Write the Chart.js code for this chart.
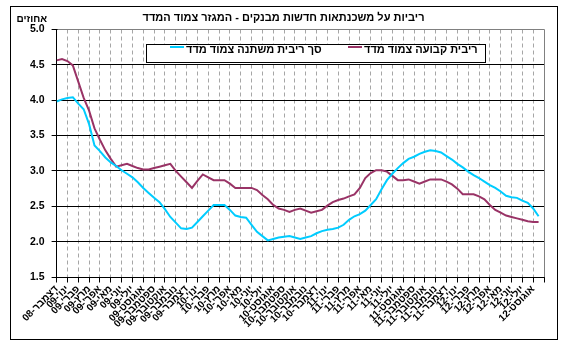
<!DOCTYPE html>
<html>
<head>
<meta charset="utf-8">
<script src="https://cdn.jsdelivr.net/npm/chart.js@4"></script>
<style>
html, body { margin: 0; padding: 0; background: #fff; }
#contenedor { width: 585px; height: 353px; }
</style>
</head>
<body>
<div id="contenedor"><canvas id="grafico" width="585" height="353"></canvas></div>
<script>
// meses del eje x (etiquetas de las marcas)
const meses = [
    "דצמבר-08",
    "ינו'-09", "פבר'-09", "מרץ-09", "אפר'-09", "מאי-09", "יוני-09", "יולי-09", "אוגוסט-09", "ספטמבר-09", "אוקטובר-09", "נובמבר-09", "דצמבר-09",
    "ינו'-10", "פבר'-10", "מרץ-10", "אפר'-10", "מאי-10", "יוני-10", "יולי-10", "אוגוסט-10", "ספטמבר-10", "אוקטובר-10", "נובמבר-10", "דצמבר-10",
    "ינו'-11", "פבר'-11", "מרץ-11", "אפר'-11", "מאי-11", "יוני-11", "יולי-11", "אוגוסט-11", "ספטמבר-11", "אוקטובר-11", "נובמבר-11", "דצמבר-11",
    "ינו'-12", "פבר'-12", "מרץ-12", "אפר'-12", "מאי-12", "יוני-12", "יולי-12", "אוגוסט-12"
];

// valores cada medio mes, desde dic-08
const ribitMishtana = [
    3.98, 4.01, 4.03, 4.04, 3.95, 3.87, 3.66, 3.36, 3.28, 3.19,
    3.12, 3.07, 3.01, 2.96, 2.91, 2.84, 2.76, 2.69, 2.62, 2.56,
    2.46, 2.35, 2.27, 2.19, 2.18, 2.20, 2.28, 2.36, 2.44, 2.52,
    2.52, 2.52, 2.45, 2.37, 2.35, 2.34, 2.24, 2.14, 2.08, 2.02,
    2.04, 2.06, 2.07, 2.08, 2.06, 2.04, 2.06, 2.08, 2.12, 2.15,
    2.17, 2.18, 2.20, 2.24, 2.31, 2.36, 2.39, 2.44, 2.52, 2.60,
    2.74, 2.87, 2.96, 3.04, 3.11, 3.17, 3.20, 3.24, 3.27, 3.29,
    3.28, 3.26, 3.21, 3.16, 3.10, 3.05, 2.99, 2.94, 2.90, 2.85,
    2.80, 2.76, 2.71, 2.65, 2.63, 2.62, 2.58, 2.55, 2.47, 2.36
];
const ribitKvua = [
    4.56, 4.58, 4.55, 4.49, 4.26, 4.03, 3.85, 3.60, 3.44, 3.29,
    3.17, 3.06, 3.08, 3.10, 3.07, 3.04, 3.02, 3.02, 3.04, 3.06,
    3.08, 3.10, 3.00, 2.92, 2.84, 2.76, 2.86, 2.95, 2.91, 2.87,
    2.87, 2.87, 2.82, 2.76, 2.76, 2.76, 2.76, 2.73, 2.66, 2.60,
    2.52, 2.47, 2.45, 2.42, 2.45, 2.47, 2.44, 2.41, 2.43, 2.45,
    2.51, 2.56, 2.59, 2.61, 2.64, 2.67, 2.76, 2.90, 2.97, 3.01,
    3.01, 2.99, 2.93, 2.87, 2.87, 2.88, 2.85, 2.82, 2.85, 2.88,
    2.88, 2.88, 2.85, 2.81, 2.75, 2.67, 2.67, 2.67, 2.64, 2.60,
    2.52, 2.45, 2.41, 2.37, 2.35, 2.33, 2.31, 2.29, 2.28, 2.28
];

const yMin = 1.5;
const yMax = 5;

const fuente = 'Liberation Sans, Arial, DejaVu Sans, sans-serif';
Chart.defaults.font.family = fuente;
Chart.defaults.color = '#000';

const aPuntos = (serie) => serie.map((v, i) => ({ x: i / 2, y: v }));

// rejilla vertical punteada, borde gris, marcas del eje x, marco, leyenda y "אחוזים"
// (todo a partir de las escalas, no de chartArea)
const marcoPlugin = {
    id: 'marco',
    afterDraw(chart) {
        const ctx = chart.ctx;
        const sx = chart.scales.x;
        const sy = chart.scales.y;
        const alinear = (p) => Math.round(p - 0.5) + 0.5;
        const arriba = alinear(sy.getPixelForValue(yMax));
        const abajo = alinear(sy.getPixelForValue(yMin));
        ctx.save();

        // por detrás de las líneas ya dibujadas
        ctx.globalCompositeOperation = 'destination-over';
        ctx.lineWidth = 1;
        ctx.strokeStyle = '#a6a6a6';
        ctx.setLineDash([4, 3]);
        for (let i = 1; i < meses.length; i++) {
            const x = alinear(sx.getPixelForValue(i));
            ctx.beginPath();
            ctx.moveTo(x, arriba);
            ctx.lineTo(x, abajo);
            ctx.stroke();
        }
        ctx.setLineDash([]);
        ctx.globalCompositeOperation = 'source-over';

        // borde gris superior y derecho
        const xIzq = alinear(sx.getPixelForValue(0));
        const xDer = alinear(sx.getPixelForValue(meses.length));
        ctx.strokeStyle = '#808080';
        ctx.beginPath();
        ctx.moveTo(xIzq + 1, arriba);
        ctx.lineTo(xDer, arriba);
        ctx.lineTo(xDer, abajo);
        ctx.stroke();

        // eje x y sus marcas
        ctx.strokeStyle = '#000';
        ctx.beginPath();
        ctx.moveTo(xIzq, abajo);
        ctx.lineTo(xDer, abajo);
        ctx.stroke();
        for (let i = 0; i <= meses.length; i++) {
            const x = alinear(sx.getPixelForValue(i));
            ctx.beginPath();
            ctx.moveTo(x, abajo);
            ctx.lineTo(x, abajo + 5);
            ctx.stroke();
        }

        ctx.strokeRect(10.5, 6.5, 547, 333);

        ctx.font = 'bold 10px ' + fuente;
        ctx.fillStyle = '#000';
        ctx.textAlign = 'right';
        ctx.textBaseline = 'middle';
        ctx.fillText('אחוזים', 47, 19);

        // leyenda
        ctx.font = 'bold 11px ' + fuente;
        ctx.fillStyle = '#fff';
        ctx.fillRect(146, 44, 339, 18);
        ctx.strokeStyle = '#000';
        ctx.strokeRect(146.5, 44.5, 339, 18);
        const xs = [170, 348];
        chart.data.datasets.forEach((ds, i) => {
            ctx.strokeStyle = ds.borderColor;
            ctx.lineWidth = 2;
            ctx.beginPath();
            ctx.moveTo(xs[i], 47);
            ctx.lineTo(xs[i] + 14, 47);
            ctx.stroke();
            ctx.fillStyle = '#000';
            ctx.textAlign = 'left';
            ctx.fillText(ds.label, xs[i] + 16, 50);
        });
        ctx.restore();
    }
};

new Chart(document.getElementById('grafico').getContext('2d'), {
    type: 'line',
    data: {
        datasets: [{
            label: 'סך ריבית משתנה צמוד מדד',
            data: aPuntos(ribitMishtana),
            borderColor: '#00CCFF',
            borderWidth: 2,
            pointRadius: 0,
            tension: 0
        }, {
            label: 'ריבית קבועה צמוד מדד',
            data: aPuntos(ribitKvua),
            borderColor: '#993366',
            borderWidth: 2,
            pointRadius: 0,
            tension: 0
        }]
    },
    options: {
        responsive: false,
        animation: false,
        layout: { padding: { left: 23, right: 41, top: 10, bottom: 22 } },
        plugins: {
            legend: { display: false },
            tooltip: { enabled: false },
            title: {
                display: true,
                text: 'ריביות על משכנתאות חדשות מבנקים - המגזר צמוד המדד',
                font: { size: 11, weight: 'bold' },
                color: '#000',
                padding: { top: 1, bottom: 5 }
            }
        },
        scales: {
            x: {
                type: 'linear',
                min: 0,
                max: meses.length,
                ticks: {
                    stepSize: 1,
                    autoSkip: false,
                    minRotation: 45,
                    maxRotation: 45,
                    padding: 1,
                    font: { size: 10, weight: 'bold' },
                    callback: (v) => meses[v] || ''
                },
                grid: {
                    color: 'rgba(0,0,0,0)',
                    tickColor: 'rgba(0,0,0,0)',
                    tickLength: 5
                },
                border: { color: '#000' }
            },
            y: {
                min: yMin,
                max: yMax,
                ticks: {
                    stepSize: 0.5,
                    padding: 7,
                    font: { size: 10.5, weight: 'bold' },
                    callback: (v) => v.toFixed(1)
                },
                grid: {
                    color: '#000',
                    tickColor: '#000',
                    tickLength: 5
                },
                border: { color: '#000' }
            }
        }
    },
    plugins: [marcoPlugin]
});
</script>
</body>
</html>
